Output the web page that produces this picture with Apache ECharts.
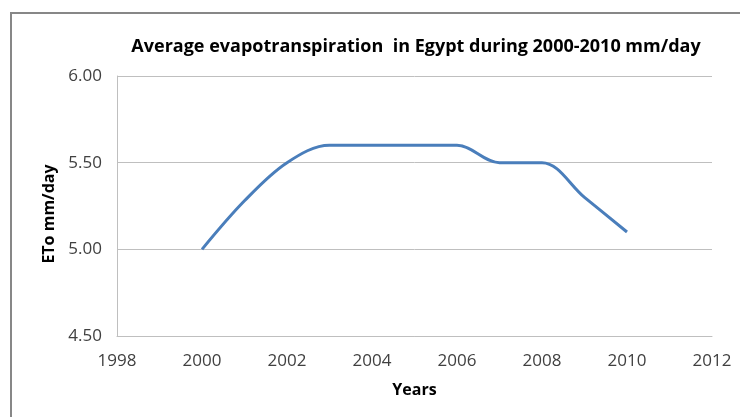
<!DOCTYPE html>
<html>
<head>
<meta charset="utf-8">
<script src="https://cdn.jsdelivr.net/npm/echarts@6/dist/echarts.min.js"></script>
<style>
  html, body { margin: 0; padding: 0; background: #fff; }
  #chart { width: 740px; height: 417px; }
</style>
</head>
<body>
<div id="chart"></div>
<script>
// years and ETo values
var years = [2000, 2001, 2002, 2003, 2004, 2005, 2006, 2007, 2008, 2009, 2010];
var eto = [5.00, 5.28, 5.50, 5.60, 5.60, 5.60, 5.60, 5.50, 5.50, 5.30, 5.10];
var yTicks = [4.5, 5.0, 5.5, 6.0];

var pts = years.map(function (y, i) { return [y, eto[i]]; });

var chart = echarts.init(document.getElementById('chart'));
chart.setOption({
    animation: false,
    backgroundColor: '#fff',
    title: {
        text: 'Average evapotranspiration  in Egypt during 2000-2010 mm/day',
        left: 411,
        top: 33,
        textAlign: 'center',
        textStyle: { fontFamily: 'Open Sans', fontWeight: 'bold', fontSize: 18, color: '#000' }
    },
    graphic: [{
        type: 'rect',
        shape: { x: 11, y: 13, width: 800, height: 500 },
        style: { fill: 'none', stroke: '#878787', lineWidth: 2 },
        silent: true
    }],
    grid: { left: 117, right: 28, top: 76, bottom: 81 },
    xAxis: {
        type: 'value',
        min: 1998,
        max: 2012,
        interval: 2,
        name: 'Years',
        nameLocation: 'middle',
        nameGap: 46,
        nameTextStyle: { fontFamily: 'Open Sans', fontWeight: 'bold', fontSize: 16, color: '#000' },
        axisLine: { show: true, lineStyle: { color: '#bfbfbf', width: 1 } },
        axisTick: { show: false },
        splitLine: { show: false },
        axisLabel: {
            color: '#404040', fontFamily: 'Open Sans', fontSize: 17, margin: 17,
            formatter: function (v) { return String(v); }
        }
    },
    yAxis: {
        type: 'value',
        min: yTicks[0],
        max: yTicks[yTicks.length - 1],
        interval: 0.5,
        name: 'ETo mm/day',
        nameLocation: 'middle',
        nameGap: 59,
        nameRotate: 90,
        nameTextStyle: {
            fontFamily: 'Open Sans', fontWeight: 'bold', fontSize: 16, color: '#000',
            padding: [0, 16, 0, 0]
        },
        axisLine: { show: true, lineStyle: { color: '#bfbfbf', width: 1 } },
        axisTick: { show: false },
        splitLine: { show: true, lineStyle: { color: '#bfbfbf', width: 1 } },
        axisLabel: {
            color: '#404040', fontFamily: 'Open Sans', fontSize: 17, margin: 15,
            formatter: function (v) { return v.toFixed(2); }
        }
    },
    series: [{
        type: 'line',
        data: pts,
        smooth: 0.35,
        showSymbol: false,
        lineStyle: { color: '#4a7ebb', width: 3 }
    }]
});
</script>
</body>
</html>
